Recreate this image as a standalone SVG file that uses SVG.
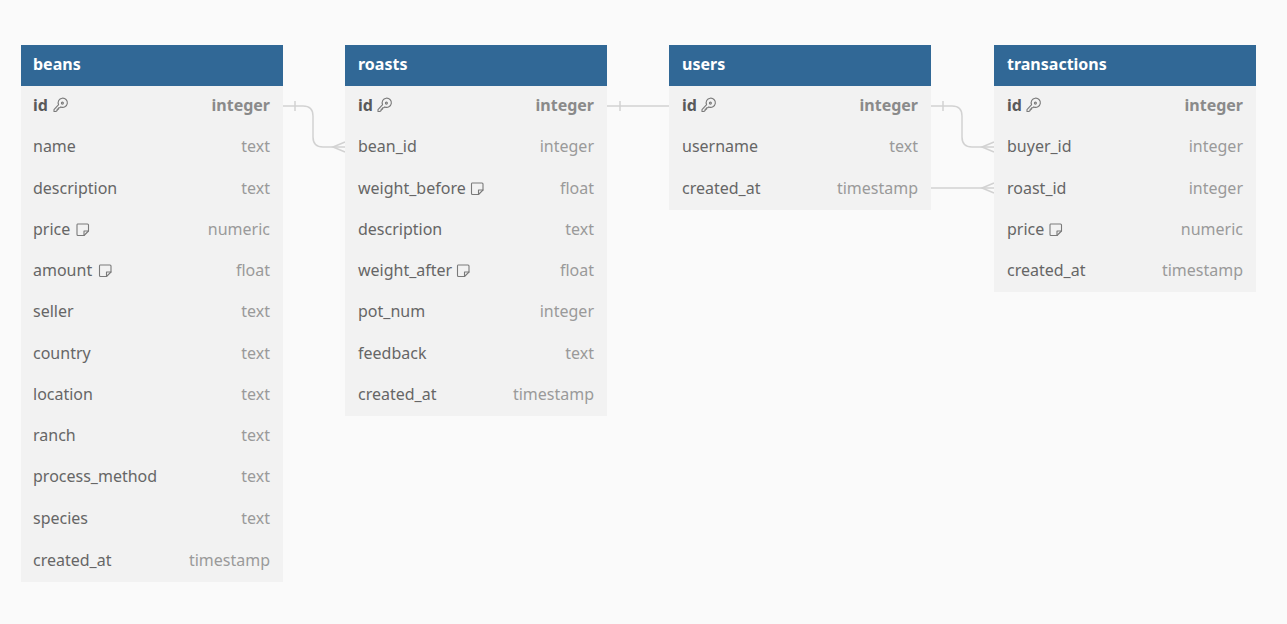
<svg xmlns="http://www.w3.org/2000/svg" width="1287" height="624" viewBox="0 0 1287 624">
<defs>
<style>
.hdr{fill:#316896}
.body{fill:#f2f2f2}
.title{font-family:"Noto Sans","Open Sans",sans-serif;font-size:16px;font-weight:bold;fill:#ffffff}
.fn{font-family:"Noto Sans","Open Sans",sans-serif;font-size:16px;fill:#666666}
.ft{font-family:"Noto Sans","Open Sans",sans-serif;font-size:16px;fill:#9a9a9a;text-anchor:end}
.pk{font-weight:bold;fill:#5a5a5a}
.pkt{font-weight:bold;fill:#8a8a8a}
.conn{fill:none;stroke:#d2d2d2;stroke-width:1.5}
.icon{fill:none;stroke:#7a7a7a;stroke-width:1.1;stroke-linejoin:round;stroke-linecap:round}
</style>
<g id="keyIcon">
<path class="icon" d="M5.6,6.2 A4.6,4.6 0 1 1 7.8,8.4 L6.8,9.2 L5.6,9.2 L5.6,10.6 L4.2,10.6 L4.2,12 L2.8,13 L1,13 L1,11.2 Z"/>
<circle cx="9.4" cy="4.6" r="1" class="icon"/>
</g>
<g id="noteIcon">
<path class="icon" d="M1.5,1 H11.5 Q12.5,1 12.5,2 V8 L8,12.5 H2 Q1,12.5 1,11.5 V2 Q1,1 1.5,1 Z"/>
<path class="icon" d="M12.5,8 H8 V12.5"/>
</g>
</defs>
<rect x="0" y="0" width="1287" height="624" fill="#fafafa"/>

<g id="connectors">
<path class="conn" d="M283,106 H303 Q313,106 313,116 V137 Q313,147 323,147 H345"/>
<path class="conn" d="M295,101 V111"/>
<path class="conn" d="M345,142 L333,147 L345,152"/>

<path class="conn" d="M607,106 H669"/>
<path class="conn" d="M620,101 V111"/>

<path class="conn" d="M931,106 H952 Q962,106 962,116 V137 Q962,147 972,147 H994"/>
<path class="conn" d="M943,101 V111"/>
<path class="conn" d="M994,142 L982,147 L994,152"/>

<path class="conn" d="M931,188 H994"/>
<path class="conn" d="M994,183 L982,188 L994,193"/>
</g>

<g id="beans">
<rect class="body" x="21" y="86" width="262" height="496"/>
<rect class="hdr" x="21" y="45" width="262" height="41"/>
<text class="title" x="33" y="70">beans</text>
<text class="fn pk" x="33" y="111">id</text><use href="#keyIcon" x="53" y="98.5"/><text class="ft pkt" x="270" y="111">integer</text>
<text class="fn" x="33" y="152">name</text><text class="ft" x="270" y="152">text</text>
<text class="fn" x="33" y="194">description</text><text class="ft" x="270" y="194">text</text>
<text class="fn" x="33" y="235">price</text><use href="#noteIcon" x="76" y="223"/><text class="ft" x="270" y="235">numeric</text>
<text class="fn" x="33" y="276">amount</text><use href="#noteIcon" x="98.5" y="264"/><text class="ft" x="270" y="276">float</text>
<text class="fn" x="33" y="317">seller</text><text class="ft" x="270" y="317">text</text>
<text class="fn" x="33" y="359">country</text><text class="ft" x="270" y="359">text</text>
<text class="fn" x="33" y="400">location</text><text class="ft" x="270" y="400">text</text>
<text class="fn" x="33" y="441">ranch</text><text class="ft" x="270" y="441">text</text>
<text class="fn" x="33" y="482">process_method</text><text class="ft" x="270" y="482">text</text>
<text class="fn" x="33" y="524">species</text><text class="ft" x="270" y="524">text</text>
<text class="fn" x="33" y="566">created_at</text><text class="ft" x="270" y="566">timestamp</text>
</g>

<g id="roasts">
<rect class="body" x="345" y="86" width="262" height="330"/>
<rect class="hdr" x="345" y="45" width="262" height="41"/>
<text class="title" x="358" y="70">roasts</text>
<text class="fn pk" x="358" y="111">id</text><use href="#keyIcon" x="377" y="98.5"/><text class="ft pkt" x="594" y="111">integer</text>
<text class="fn" x="358" y="152">bean_id</text><text class="ft" x="594" y="152">integer</text>
<text class="fn" x="358" y="194">weight_before</text><use href="#noteIcon" x="470.5" y="182"/><text class="ft" x="594" y="194">float</text>
<text class="fn" x="358" y="235">description</text><text class="ft" x="594" y="235">text</text>
<text class="fn" x="358" y="276">weight_after</text><use href="#noteIcon" x="456.5" y="264"/><text class="ft" x="594" y="276">float</text>
<text class="fn" x="358" y="317">pot_num</text><text class="ft" x="594" y="317">integer</text>
<text class="fn" x="358" y="359">feedback</text><text class="ft" x="594" y="359">text</text>
<text class="fn" x="358" y="400">created_at</text><text class="ft" x="594" y="400">timestamp</text>
</g>

<g id="users">
<rect class="body" x="669" y="86" width="262" height="124"/>
<rect class="hdr" x="669" y="45" width="262" height="41"/>
<text class="title" x="682" y="70">users</text>
<text class="fn pk" x="682" y="111">id</text><use href="#keyIcon" x="701" y="98.5"/><text class="ft pkt" x="918" y="111">integer</text>
<text class="fn" x="682" y="152">username</text><text class="ft" x="918" y="152">text</text>
<text class="fn" x="682" y="194">created_at</text><text class="ft" x="918" y="194">timestamp</text>
</g>

<g id="transactions">
<rect class="body" x="994" y="86" width="262" height="206"/>
<rect class="hdr" x="994" y="45" width="262" height="41"/>
<text class="title" x="1007" y="70">transactions</text>
<text class="fn pk" x="1007" y="111">id</text><use href="#keyIcon" x="1026" y="98.5"/><text class="ft pkt" x="1243" y="111">integer</text>
<text class="fn" x="1007" y="152">buyer_id</text><text class="ft" x="1243" y="152">integer</text>
<text class="fn" x="1007" y="194">roast_id</text><text class="ft" x="1243" y="194">integer</text>
<text class="fn" x="1007" y="235">price</text><use href="#noteIcon" x="1049" y="223"/><text class="ft" x="1243" y="235">numeric</text>
<text class="fn" x="1007" y="276">created_at</text><text class="ft" x="1243" y="276">timestamp</text>
</g>
</svg>
